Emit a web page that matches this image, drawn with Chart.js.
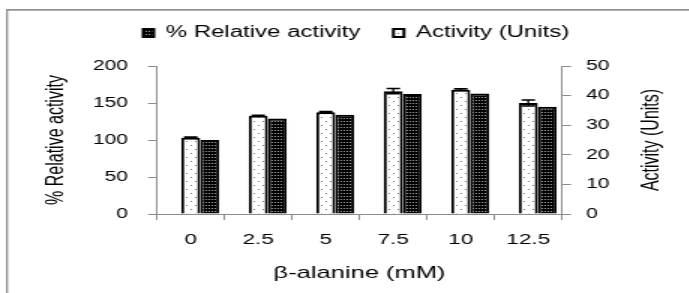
<!DOCTYPE html>
<html><head><meta charset="utf-8">
<script src="https://cdn.jsdelivr.net/npm/chart.js@4.4.0/dist/chart.umd.min.js"></script>
<style>
html,body{margin:0;padding:0;background:#fff;overflow:hidden;width:689px;height:293px}
#wrap{position:absolute;left:0;top:0;width:459px;height:293px;transform:scale(1.5,1);transform-origin:0 0}
canvas{display:block}
</style></head><body>
<div id="wrap"><canvas id="c" width="459" height="293"></canvas></div>
<script>
// ---- data ----
const categories = ['0', '2.5', '5', '7.5', '10', '12.5'];
const relativeActivity = [100, 129, 134, 162, 163, 145];
const activityUnits = [25.8, 33.2, 34.4, 41.5, 42.0, 37.5];
const activityError = [0.2, 0.2, 0.2, 0.9, 0.3, 1.0];
const leftTicks = [0, 50, 100, 150, 200];
const rightTicks = [0, 10, 20, 30, 40, 50];
const relLabel = '% Relative activity';
const actLabel = 'Activity (Units)';
const xTitle = 'β-alanine (mM)';
const leftTitle = '% Relative activity';
const rightTitle = 'Activity (Units)';

Chart.defaults.font.family = '"Liberation Sans", Arial, sans-serif';
Chart.defaults.color = '#000';

function makePattern(w, h, bg, dots, dotColor) {
  const c = document.createElement('canvas');
  c.width = w; c.height = h;
  const g = c.getContext('2d');
  g.fillStyle = bg; g.fillRect(0, 0, w, h);
  g.fillStyle = dotColor;
  dots.forEach(([x, y]) => g.fillRect(x, y, 1, 1));
  return g.createPattern(c, 'repeat');
}
const lightFill = makePattern(6, 8, '#ffffff', [[1, 1], [4, 5]], '#7a7a7a');
const darkFill = makePattern(2, 3, '#000000', [[1, 1]], '#9c9c9c');

const axisGray = '#8c8c8c';

const framePlugin = {
  id: 'frame',
  beforeDraw(chart) {
    const ctx = chart.ctx;
    ctx.save();
    ctx.fillStyle = '#fff';
    ctx.fillRect(0, 0, chart.width, chart.height);
    ctx.fillStyle = '#8f8f8f';
    ctx.fillRect(4, 9, 1.33, chart.height - 9);
    ctx.fillRect(4, 9, chart.width - 4, 1.7);
    ctx.restore();
  }
};

const legendSpacer = {
  id: 'legendSpacer',
  beforeLayout(chart) {
    const lg = chart.legend;
    if (lg && !lg._spaced) {
      const fit = lg.fit;
      lg.fit = function () { fit.call(this); this.height += 15; };
      lg._spaced = true;
    }
  }
};

const errorBars = {
  id: 'errorBars',
  afterDatasetsDraw(chart) {
    const meta = chart.getDatasetMeta(2);
    const ys = chart.scales.y1;
    const ctx = chart.ctx;
    ctx.save();
    ctx.strokeStyle = '#000';
    meta.data.forEach((bar, i) => {
      const v = activityUnits[i], e = activityError[i];
      const top = ys.getPixelForValue(v + e), bot = ys.getPixelForValue(v - e);
      ctx.lineWidth = 1.3;
      ctx.beginPath(); ctx.moveTo(bar.x, top); ctx.lineTo(bar.x, bot); ctx.stroke();
      ctx.lineWidth = 1.5;
      ctx.beginPath();
      ctx.moveTo(bar.x - 4.5, top); ctx.lineTo(bar.x + 4.5, top);
      ctx.moveTo(bar.x - 4.5, bot); ctx.lineTo(bar.x + 4.5, bot);
      ctx.stroke();
    });
    ctx.restore();
  }
};

const rightTitlePlugin = {
  id: 'rightTitle',
  afterDraw(chart) {
    const s = chart.scales.y1;
    const ctx = chart.ctx;
    ctx.save();
    ctx.translate(s.right - 24.33, (chart.chartArea.top + chart.chartArea.bottom) / 2);
    ctx.rotate(-Math.PI / 2);
    ctx.font = '16px "Liberation Sans", Arial, sans-serif';
    ctx.fillStyle = '#000';
    ctx.textAlign = 'center';
    ctx.textBaseline = 'middle';
    ctx.fillText(rightTitle, 0, 0);
    ctx.restore();
  }
};

new Chart(document.getElementById('c'), {
  type: 'bar',
  data: {
    labels: categories,
    datasets: [
      { label: '', data: categories.map(() => null), yAxisID: 'y', order: 0 },
      { label: relLabel, data: relativeActivity, yAxisID: 'y', order: 2,
        backgroundColor: darkFill, borderColor: '#000', borderWidth: 2 },
      { label: actLabel, data: activityUnits, yAxisID: 'y1', order: 1,
        backgroundColor: lightFill, borderColor: '#000', borderWidth: 2 }
    ]
  },
  options: {
    responsive: false,
    animation: false,
    devicePixelRatio: 1,
    categoryPercentage: 0.844,
    barPercentage: 1,
    layout: { padding: { left: 16, right: 0, top: 3, bottom: 0 } },
    plugins: {
      legend: {
        position: 'top',
        labels: {
          font: { size: 16 }, color: '#000', boxWidth: 7, boxHeight: 8, padding: 22,
          filter: (item) => item.datasetIndex !== 0,
          sort: (a, b) => a.datasetIndex - b.datasetIndex
        }
      },
      tooltip: { enabled: false }
    },
    scales: {
      x: {
        grid: { drawOnChartArea: false, color: axisGray, tickLength: 6, offset: true },
        border: { color: axisGray },
        ticks: { font: { size: 15 }, color: '#000', padding: 11 },
        title: { display: true, text: xTitle, font: { size: 17 }, color: '#000', padding: { top: 0, bottom: 9.8 } },
        afterFit: (s) => { s.height = 79; }
      },
      y: {
        position: 'left', min: 0, max: 200,
        grid: { drawOnChartArea: false, color: axisGray, tickLength: 6 },
        border: { color: axisGray },
        ticks: { font: { size: 14 }, color: '#000', padding: 13.3 },
        afterBuildTicks: (s) => { s.ticks = leftTicks.map(v => ({ value: v })); },
        title: { display: true, text: leftTitle, font: { size: 16 }, color: '#000', padding: { top: 12.4, bottom: 0 } },
        afterFit: (s) => { s.width = 88.67; }
      },
      y1: {
        position: 'right', min: 0, max: 50,
        grid: { drawOnChartArea: false, color: axisGray, tickLength: 6 },
        border: { color: axisGray },
        ticks: { font: { size: 14 }, color: '#000', padding: 10 },
        afterBuildTicks: (s) => { s.ticks = rightTicks.map(v => ({ value: v })); },
        afterFit: (s) => { s.width = 84.33; }
      }
    }
  },
  plugins: [framePlugin, legendSpacer, errorBars, rightTitlePlugin]
});
</script>
</body></html>
